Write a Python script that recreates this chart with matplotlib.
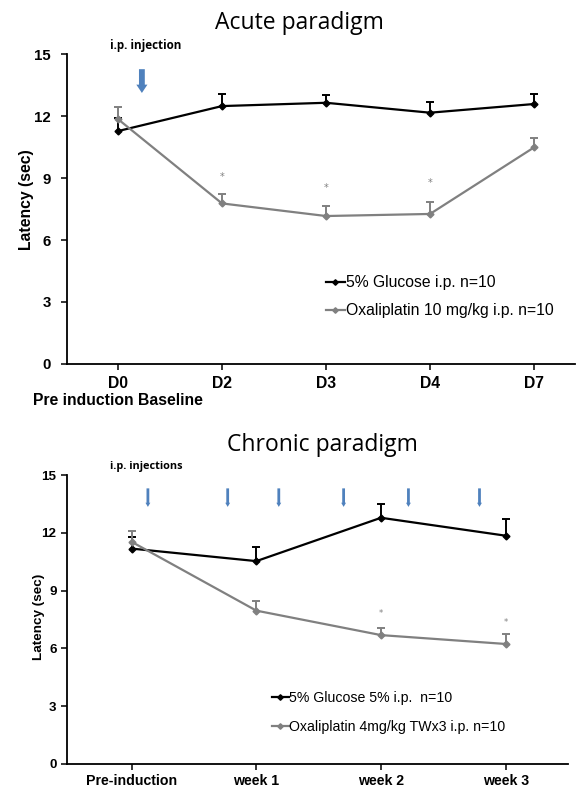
import matplotlib
matplotlib.use("Agg")
import matplotlib.pyplot as plt
import numpy as np

# ---------------- data ----------------
acute_days = ["D0\nPre induction Baseline", "D2", "D3", "D4", "D7"]
acute_glucose = [11.27, 12.48, 12.64, 12.16, 12.58]
acute_glucose_err = [0.62, 0.58, 0.39, 0.52, 0.48]
acute_oxa = [11.85, 7.77, 7.16, 7.26, 10.48]
acute_oxa_err = [0.60, 0.46, 0.48, 0.59, 0.45]
acute_star_idx = [1, 2, 3]
acute_star_y = [9.06, 8.53, 8.77]
acute_arrow_x = [0.23]

chronic_weeks = ["Pre-induction", "week 1", "week 2", "week 3"]
chronic_glucose = [11.18, 10.53, 12.78, 11.85]
chronic_glucose_err = [0.60, 0.73, 0.70, 0.85]
chronic_oxa = [11.53, 7.96, 6.69, 6.23]
chronic_oxa_err = [0.56, 0.52, 0.38, 0.50]
chronic_star_idx = [2, 3]
chronic_star_y = [7.82, 7.33]
chronic_arrow_x = [0.13, 0.77, 1.18, 1.70, 2.22, 2.79]

yticks = [0, 3, 6, 9, 12, 15]

BLACK = "#000000"
GRAY = "#808080"
BLUE = "#4f81bd"
BOLD_FONT = "Liberation Sans"
TITLE_FONT = "Open Sans"

fig = plt.figure(figsize=(5.82, 7.88), dpi=100)


def series(ax, x, y, err, color, label):
    ax.plot(x, y, color=color, lw=1.6, marker="D", ms=3.5, mfc=color, mec=color,
            label=label, zorder=3)
    eb = ax.errorbar(x, y, yerr=[np.zeros(len(err)), err], fmt="none", ecolor=color,
                     elinewidth=1.4, capsize=2.8, capthick=1.4, zorder=2)
    eb[1][0].set_visible(False)


def style_axes(ax, labels, xlim, xt_fs, yt_fs, ylab_fs, ylab_xy, xpad, ypad):
    ax.set_xlim(*xlim)
    ax.set_ylim(0, 15)
    ax.set_yticks(yticks)
    ax.set_xticks(range(len(labels)))
    ax.set_xticklabels(labels, fontfamily=BOLD_FONT, fontweight="bold", fontsize=xt_fs,
                       linespacing=1.15)
    for t in ax.get_yticklabels():
        t.set_fontfamily(BOLD_FONT)
        t.set_fontweight("bold")
        t.set_fontsize(yt_fs)
    for s in ["top", "right"]:
        ax.spines[s].set_visible(False)
    for s in ["left", "bottom"]:
        ax.spines[s].set_linewidth(1.3)
    ax.tick_params(axis="both", direction="out", length=4, width=1.1)
    ax.tick_params(axis="x", pad=xpad)
    ax.tick_params(axis="y", pad=ypad)
    ax.set_ylabel("Latency (sec)", fontfamily=BOLD_FONT, fontweight="bold",
                  fontsize=ylab_fs, va="center")
    ax.yaxis.set_label_coords(*ylab_xy)


# ---------------- acute ----------------
ax1 = fig.add_axes([67 / 582, 1 - 364 / 788, 508 / 582, 310 / 788])
xa = np.arange(len(acute_days))
series(ax1, xa, acute_glucose, acute_glucose_err, BLACK, "5% Glucose i.p. n=10")
series(ax1, xa, acute_oxa, acute_oxa_err, GRAY, "Oxaliplatin 10 mg/kg i.p. n=10")
for i, sy in zip(acute_star_idx, acute_star_y):
    ax1.text(xa[i], sy, "*", color=GRAY, fontsize=7, ha="center", va="center")
style_axes(ax1, acute_days, (-0.49, 4.394), 11.3, 10.8, 11.3,
           ((27 - 67) / 508, (364 - 200) / 310), 5, 7.5)
for ax_x in acute_arrow_x:
    ax1.annotate("", xy=(ax_x, 12.98), xytext=(ax_x, 14.4),
                 arrowprops=dict(arrowstyle="simple,head_length=0.6,head_width=0.8,tail_width=0.42",
                                 color=BLUE, lw=0))
fig.text(299 / 582, 1 - 23 / 788, "Acute paradigm", fontfamily=TITLE_FONT, fontsize=16.5,
         ha="center", va="center")
fig.text(146 / 582, 1 - 45 / 788, "i.p. injection", fontfamily=TITLE_FONT, fontweight="bold",
         fontsize=8.4, ha="center", va="center")
ax1.legend(loc="center left", bbox_to_anchor=(326 / 582, 1 - 296.7 / 788),
           bbox_transform=fig.transFigure, frameon=False, borderpad=0, borderaxespad=0,
           handlelength=1.2, handletextpad=0.05, labelspacing=0.85, markerscale=0.8,
           prop={"family": BOLD_FONT, "size": 11.3})

# ---------------- chronic ----------------
ax2 = fig.add_axes([67 / 582, 1 - 764 / 788, 501 / 582, 289 / 788])
xc = np.arange(len(chronic_weeks))
series(ax2, xc, chronic_glucose, chronic_glucose_err, BLACK, "5% Glucose 5% i.p.  n=10")
series(ax2, xc, chronic_oxa, chronic_oxa_err, GRAY, "Oxaliplatin 4mg/kg TWx3 i.p. n=10")
for i, sy in zip(chronic_star_idx, chronic_star_y):
    ax2.text(xc[i], sy, "*", color=GRAY, fontsize=6, ha="center", va="center")
style_axes(ax2, chronic_weeks, (-0.519, 3.5), 10.2, 9.6, 9.7,
           ((39 - 67) / 501, (764 - 617) / 289), 3.5, 3.5)
for ax_x in chronic_arrow_x:
    ax2.annotate("", xy=(ax_x, 13.2), xytext=(ax_x, 14.45),
                 arrowprops=dict(arrowstyle="simple,head_length=0.3,head_width=0.35,tail_width=0.2",
                                 color=BLUE, lw=0))
fig.text(322 / 582, 1 - 445 / 788, "Chronic paradigm", fontfamily=TITLE_FONT, fontsize=16.5,
         ha="center", va="center")
fig.text(146 / 582, 1 - 467 / 788, "i.p. injections", fontfamily=TITLE_FONT, fontweight="bold",
         fontsize=7.8, ha="center", va="center")
ax2.legend(loc="center left", bbox_to_anchor=(271.7 / 582, 1 - 712.5 / 788),
           bbox_transform=fig.transFigure, frameon=False, borderpad=0, borderaxespad=0,
           handlelength=1.2, handletextpad=0.05, labelspacing=1.0, markerscale=0.8,
           prop={"family": BOLD_FONT, "size": 10.2})

fig.savefig("out.png", dpi=100)
